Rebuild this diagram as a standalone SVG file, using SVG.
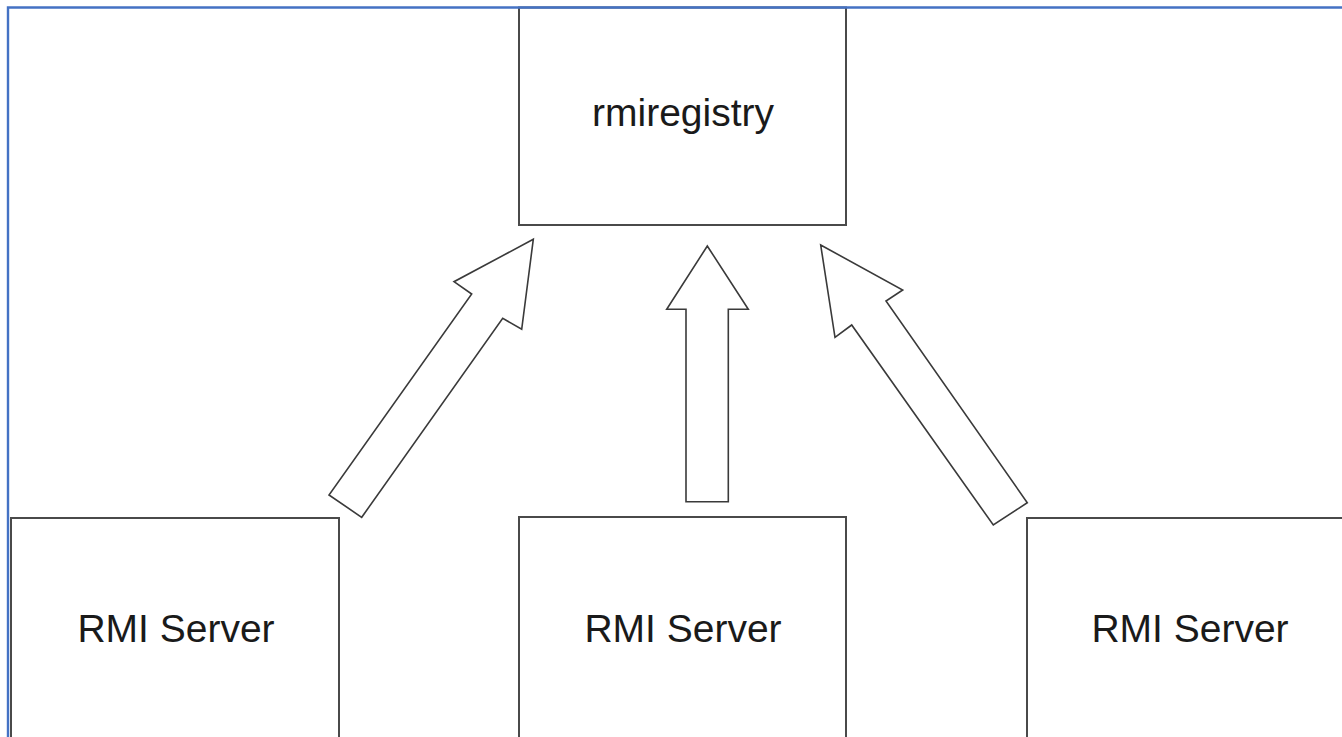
<svg xmlns="http://www.w3.org/2000/svg" width="1342" height="737" viewBox="0 0 1342 737">
<style>
.box{fill:#fff;stroke:#4a4a4a;stroke-width:2}
.lbl{font-family:"Liberation Sans",Arial,sans-serif;font-size:39px;fill:#1a1a1a;text-anchor:middle}
.arr{fill:#fff;stroke:#3a3a3a;stroke-width:1.6;stroke-linejoin:miter}
</style>
<rect width="1342" height="737" fill="#fff"/>
<g id="rmiregistry">
<rect class="box" x="519" y="7.5" width="327" height="217.5"/>
<text class="lbl" x="683" y="126">rmiregistry</text>
</g>
<g id="server1">
<rect class="box" x="11" y="518" width="328" height="230"/>
<text class="lbl" x="176" y="642">RMI Server</text>
</g>
<g id="server2">
<rect class="box" x="519" y="517" width="327" height="230"/>
<text class="lbl" x="683" y="642">RMI Server</text>
</g>
<g id="server3">
<rect class="box" x="1027" y="518" width="327" height="230"/>
<text class="lbl" x="1190" y="642">RMI Server</text>
</g>
<g id="connectors">
<polygon class="arr" points="533.3,239.3 521.7,329.3 502.7,318.3 361.7,517.3 329,495 471.7,294 454,281.7"/>
<polygon class="arr" points="707.3,246 748.3,309.3 728.3,309.3 728.3,501.7 686,501.7 686,309.3 666.7,309.3"/>
<polygon class="arr" points="820.7,245 902.7,290 886,301 1027.3,502.7 993.3,525 851.7,325 835,337.3"/>
</g>
<polyline points="8,737 8,7.5 1342,7.5" fill="none" stroke="#4472c4" stroke-width="2.4"/>
</svg>
